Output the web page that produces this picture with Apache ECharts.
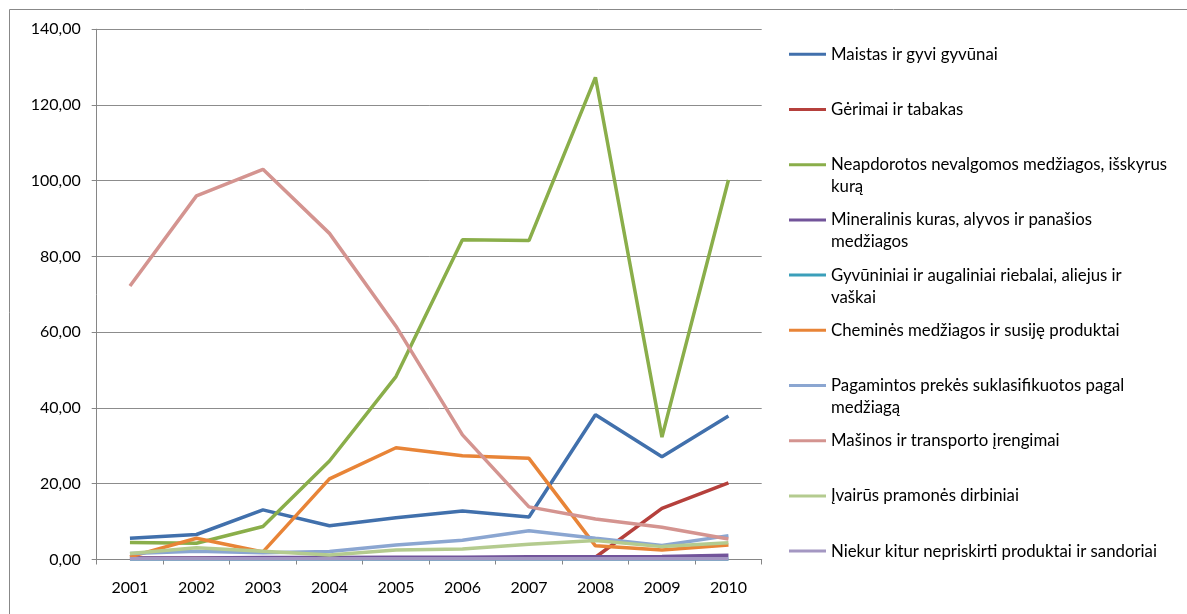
<!DOCTYPE html>
<html>
<head>
<meta charset="utf-8">
<script src="https://cdn.jsdelivr.net/npm/echarts@6/dist/echarts.min.js"></script>
<style>
  html, body { margin: 0; padding: 0; background: #fff; }
  #chart { width: 1187px; height: 614px; }
</style>
</head>
<body>
<div id="chart"></div>
<script>
const years = ['2001', '2002', '2003', '2004', '2005', '2006', '2007', '2008', '2009', '2010']

const seriesNames = [
  'Maistas ir gyvi gyvūnai',
  'Gėrimai ir tabakas',
  'Neapdorotos nevalgomos medžiagos, išskyrus kurą',
  'Mineralinis kuras, alyvos ir panašios medžiagos',
  'Gyvūniniai ir augaliniai riebalai, aliejus ir vaškai',
  'Cheminės medžiagos ir susiję produktai',
  'Pagamintos prekės suklasifikuotos pagal medžiagą',
  'Mašinos ir transporto įrengimai',
  'Įvairūs pramonės dirbiniai',
  'Niekur kitur nepriskirti produktai ir sandoriai',
]

// legend text as wrapped in the picture
const legendLines = [
  ['Maistas ir gyvi gyvūnai'],
  ['Gėrimai ir tabakas'],
  ['Neapdorotos nevalgomos medžiagos, išskyrus', 'kurą'],
  ['Mineralinis kuras, alyvos ir panašios', 'medžiagos'],
  ['Gyvūniniai ir augaliniai riebalai, aliejus ir', 'vaškai'],
  ['Cheminės medžiagos ir susiję produktai'],
  ['Pagamintos prekės suklasifikuotos pagal', 'medžiagą'],
  ['Mašinos ir transporto įrengimai'],
  ['Įvairūs pramonės dirbiniai'],
  ['Niekur kitur nepriskirti produktai ir sandoriai'],
]

const maistas = [5.6, 6.6, 13.1, 8.9, 11.0, 12.8, 11.2, 38.2, 27.1, 37.9]
const gerimai = [0.3, 0.3, 0.3, 0.3, 0.3, 0.3, 0.3, 0.6, 13.5, 20.2]
const neapdorotos = [4.5, 4.3, 8.7, 26.0, 48.3, 84.4, 84.2, 127.3, 32.3, 100.2]
const mineralinis = [0.4, 0.4, 0.5, 0.5, 0.6, 0.6, 0.7, 0.7, 0.8, 1.1]
const gyvuniniai = [0.1, 0.1, 0.1, 0.1, 0.1, 0.1, 0.1, 0.1, 0.1, 0.1]
const chemines = [0.7, 5.6, 2.0, 21.3, 29.5, 27.4, 26.7, 3.6, 2.5, 3.8]
const pagamintos = [1.6, 2.2, 1.8, 2.1, 3.8, 5.1, 7.6, 5.6, 3.7, 6.3]
const masinos = [72.2, 96.0, 103.0, 86.1, 61.6, 32.9, 13.9, 10.7, 8.5, 5.4]
const ivairus = [1.6, 3.1, 2.2, 1.2, 2.5, 2.8, 4.0, 5.0, 3.4, 4.4]
const niekur = [0.2, 0.2, 0.2, 0.2, 0.2, 0.2, 0.2, 0.2, 0.2, 0.2]

const seriesData = [maistas, gerimai, neapdorotos, mineralinis, gyvuniniai, chemines, pagamintos, masinos, ivairus, niekur]

const colors = ['#4170AC', '#B5403C', '#8AAE4A', '#72549A', '#3B9FBA', '#E88437', '#8BA6D1', '#D49490', '#B4CB8F', '#A497C2']

const FONT = 'Lato'
const LH = 22

const chart = echarts.init(document.getElementById('chart'), null, { renderer: 'canvas' })

// one legend per entry so the spacing matches the picture
const legends = seriesNames.map((name, i) => {
  const lines = legendLines[i]
  const text = lines.length > 1 ? '\n' + lines.join('\n') : lines[0]
  const nLines = lines.length > 1 ? 3 : 1
  const iconY = 54.3 + i * 55.2
  return {
    data: [name],
    orient: 'vertical',
    left: 789,
    top: iconY - nLines * LH / 2,
    padding: 0,
    icon: 'rect',
    itemWidth: 37,
    itemHeight: 3,
    selectedMode: false,
    formatter: () => text,
    textStyle: { fontFamily: FONT, fontSize: 16.8, color: '#000', lineHeight: LH },
  }
})

const option = {
  animation: false,
  backgroundColor: '#fff',
  textStyle: { fontFamily: FONT },
  grid: {
    left: 96.7,
    right: 425.3,
    top: 29.2,
    bottom: 54.5,
    containLabel: false,
  },
  legend: legends,
  xAxis: {
    type: 'category',
    data: years,
    boundaryGap: true,
    axisLine: { show: true, lineStyle: { color: '#868686', width: 1 } },
    axisTick: { show: true, alignWithLabel: false, length: 5, lineStyle: { color: '#868686' } },
    axisLabel: { color: '#000', fontFamily: FONT, fontSize: 16, margin: 20 },
    splitLine: { show: false },
  },
  yAxis: {
    type: 'value',
    min: 0,
    max: 140,
    interval: 20,
    axisLine: { show: true, lineStyle: { color: '#868686', width: 1 } },
    axisTick: { show: true, length: 5, lineStyle: { color: '#868686' } },
    axisLabel: {
      color: '#000',
      fontFamily: FONT,
      fontSize: 16,
      margin: 16,
      formatter: (v) => v.toFixed(2).replace('.', ','),
    },
    splitLine: { show: true, lineStyle: { color: '#8c8c8c', width: 1 } },
  },
  graphic: [
    {
      type: 'rect',
      shape: { x: 9.5, y: 9.5, width: 1200, height: 700 },
      style: { fill: 'none', stroke: '#888', lineWidth: 1 },
      silent: true,
      z: -1,
    },
  ],
  series: seriesNames.map((name, i) => ({
    name: name,
    type: 'line',
    data: seriesData[i],
    color: colors[i],
    symbol: 'none',
    lineStyle: { color: colors[i], width: 3.5 },
  })),
}

chart.setOption(option)
</script>
</body>
</html>
